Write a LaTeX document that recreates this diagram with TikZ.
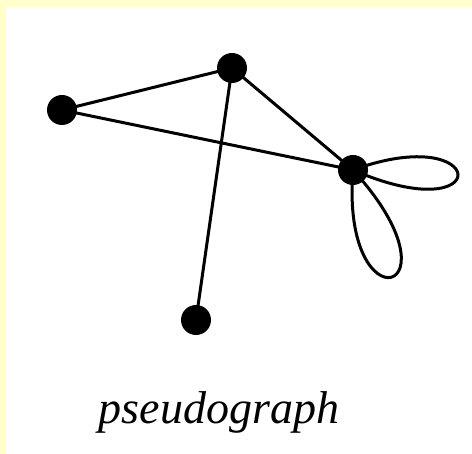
\documentclass[tikz,border=0pt]{standalone}
\usepackage{fontspec}
\setmainfont{Liberation Serif}
\definecolor{paleyellow}{HTML}{FFFFCC}

\begin{document}
\begin{tikzpicture}[x=1pt,y=-1pt,
  vertex/.style={circle,fill=black,inner sep=0pt,minimum size=30pt},
  edge/.style={line width=3pt}]
  \fill[paleyellow] (0,0) rectangle (472,454);
  \fill[white] (6,7) rectangle (472,454);
  \useasboundingbox (0,0) rectangle (472,454);
  \node[vertex] (l) at (62,110) {};
  \node[vertex] (t) at (232,68) {};
  \node[vertex] (r) at (353,170) {};
  \node[vertex] (b) at (196,320) {};
  \draw[edge] (l.center) -- (t.center);
  \draw[edge] (l.center) -- (r.center);
  \draw[edge] (t.center) -- (r.center);
  \draw[edge] (t.center) -- (b.center);
  % the two loops on r
  \draw[edge] (r.center) .. controls (490,120) and (496,232) .. (r.center);
  \draw[edge] (r.center) .. controls (340,330) and (468,296) .. (r.center);
  \node[font=\fontsize{46}{50}\selectfont\itshape] (name) at (219,412) {pseudograph};
\end{tikzpicture}
\end{document}
